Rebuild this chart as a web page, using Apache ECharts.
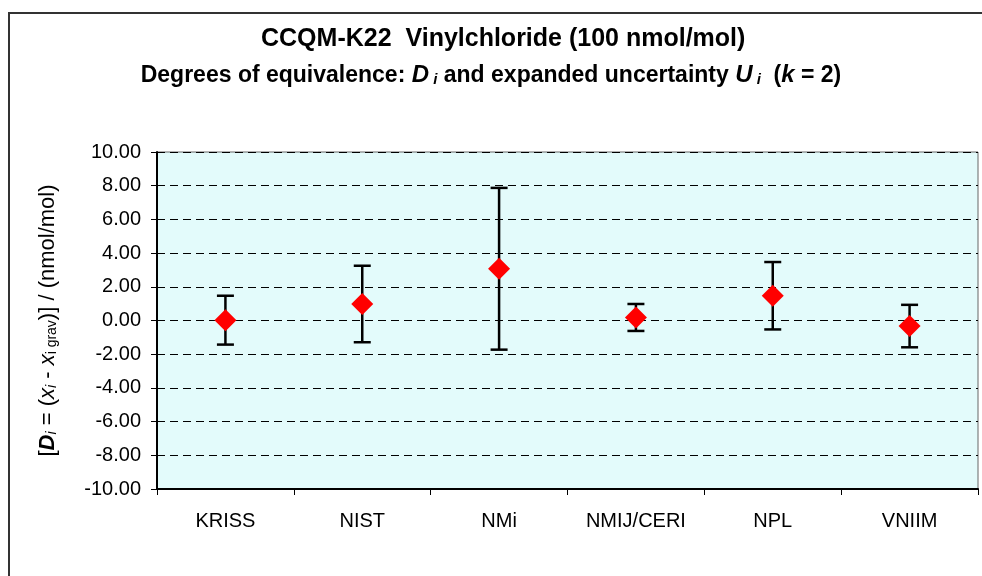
<!DOCTYPE html>
<html lang="en">
<head>
    <meta charset="UTF-8">
    <title>CCQM-K22 Vinylchloride</title>
    <style>
        html, body { margin: 0; padding: 0; background: #fff; }
        #chart { width: 982px; height: 576px; }
    </style>
</head>
<body>
<div id="chart"></div>
<script src="https://cdn.jsdelivr.net/npm/echarts@6/dist/echarts.min.js"></script>
<script>
    var labs = ['KRISS', 'NIST', 'NMi', 'NMIJ/CERI', 'NPL', 'VNIIM'];
    // degrees of equivalence D_i
    var dVals = [0.02, 0.98, 3.07, 0.18, 1.47, -0.33];
    // expanded uncertainty U_i (k = 2)
    var uVals = [1.45, 2.27, 4.80, 0.80, 2.00, 1.26];
    var yTicks = {min: -10, max: 10, step: 2};

    var pts = [];
    var bars = [];
    labs.forEach(function (name, i) {
        pts.push([i, dVals[i]]);
        bars.push([i, dVals[i] - uVals[i], dVals[i] + uVals[i]]);
    });

    var fnt = 'Arial, "Liberation Sans", sans-serif';

    var option = {
        animation: false,
        backgroundColor: '#fff',
        title: [
            {
                text: 'CCQM-K22  Vinylchloride (100 nmol/mol)',
                left: 256,
                top: 22,
                textStyle: {fontFamily: fnt, fontSize: 25, fontWeight: 'bold', color: '#000'}
            },
            {
                text: '{b|Degrees of equivalence: }{bi|D}{sub| i}{b| and expanded uncertainty }{bi|U}{sub| i}{b|  (}{bi|k}{b| = 2)}',
                left: 'center',
                top: 52,
                textStyle: {
                    rich: {
                        b: {fontFamily: fnt, fontSize: 23, fontWeight: 'bold', color: '#000', lineHeight: 30, verticalAlign: 'bottom'},
                        bi: {fontFamily: fnt, fontSize: 24, fontWeight: 'bold', fontStyle: 'italic', color: '#000', lineHeight: 30, verticalAlign: 'bottom'},
                        sub: {fontFamily: fnt, fontSize: 15, fontWeight: 'bold', fontStyle: 'italic', color: '#000', lineHeight: 24, verticalAlign: 'bottom'}
                    }
                }
            }
        ],
        graphic: [
            {
                type: 'rect',
                shape: {x: 9, y: 13, width: 1000, height: 600},
                style: {fill: 'none', stroke: '#333', lineWidth: 2},
                silent: true,
                z: -10
            }
        ],
        grid: {
            left: 157,
            top: 152,
            right: 4,
            bottom: 87,
            show: true,
            backgroundColor: '#e3fbfb',
            borderColor: '#666',
            borderWidth: 1
        },
        xAxis: {
            type: 'category',
            data: labs,
            axisLine: {onZero: false, lineStyle: {color: '#000', width: 2}},
            axisTick: {show: true, length: 6, lineStyle: {color: '#000', width: 1}},
            axisLabel: {fontFamily: fnt, fontSize: 20, color: '#000', margin: 22}
        },
        yAxis: {
            type: 'value',
            min: yTicks.min,
            max: yTicks.max,
            interval: yTicks.step,
            name: '{t|[}{bi|D}{subi|i}{t| = (}{it|x}{subi|i}{t| - }{it|x}{sub|i grav}{t|)] / (nmol/mol)}',
            nameLocation: 'middle',
            nameRotate: 90,
            nameGap: 98,
            nameTextStyle: {
                rich: {
                    t: {fontFamily: fnt, fontSize: 22, color: '#000', lineHeight: 28, verticalAlign: 'bottom'},
                    it: {fontFamily: fnt, fontSize: 22, fontStyle: 'italic', color: '#000', lineHeight: 28, verticalAlign: 'bottom'},
                    bi: {fontFamily: fnt, fontSize: 22, fontStyle: 'italic', fontWeight: 'bold', color: '#000', lineHeight: 28, verticalAlign: 'bottom'},
                    subi: {fontFamily: fnt, fontSize: 14, fontStyle: 'italic', color: '#000', lineHeight: 22, verticalAlign: 'bottom'},
                    sub: {fontFamily: fnt, fontSize: 14, color: '#000', lineHeight: 22, verticalAlign: 'bottom'}
                }
            },
            axisLine: {show: true, lineStyle: {color: '#000', width: 2}},
            axisTick: {show: true, length: 6, lineStyle: {color: '#000', width: 1}},
            axisLabel: {
                fontFamily: fnt,
                fontSize: 20,
                color: '#000',
                margin: 16,
                formatter: function (v) { return v.toFixed(2); }
            },
            splitLine: {show: true, lineStyle: {color: '#000', type: [8, 5], width: 1}}
        },
        series: [
            {
                type: 'custom',
                data: bars,
                z: 3,
                renderItem: function (params, api) {
                    var lo = api.coord([api.value(0), api.value(1)]);
                    var hi = api.coord([api.value(0), api.value(2)]);
                    var half = 8.5;
                    var st = {stroke: '#000', lineWidth: 2.5};
                    return {
                        type: 'group',
                        children: [
                            {type: 'line', shape: {x1: lo[0], y1: lo[1], x2: hi[0], y2: hi[1]}, style: st},
                            {type: 'line', shape: {x1: lo[0] - half, y1: lo[1], x2: lo[0] + half, y2: lo[1]}, style: st},
                            {type: 'line', shape: {x1: hi[0] - half, y1: hi[1], x2: hi[0] + half, y2: hi[1]}, style: st}
                        ]
                    };
                }
            },
            {
                type: 'scatter',
                data: pts,
                symbol: 'diamond',
                symbolSize: [22, 22],
                z: 5,
                itemStyle: {color: '#ff0000', opacity: 1}
            }
        ]
    };

    var myChart = echarts.init(document.getElementById('chart'));
    myChart.setOption(option);
</script>
</body>
</html>
